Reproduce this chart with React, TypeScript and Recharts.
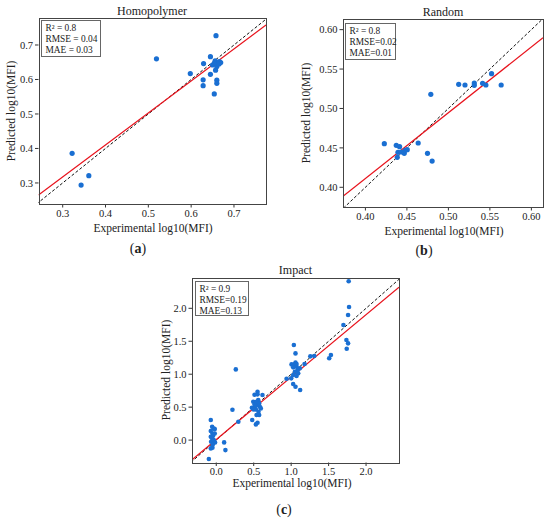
import React from "react";
import { ScatterChart, Scatter, XAxis, YAxis, ReferenceLine } from "recharts";

const FONT = "'Liberation Serif', 'Times New Roman', serif";
const DOT = "#1a6fd2";

// Panel (a) Homopolymer
const homoX = [0.322, 0.343, 0.361, 0.519, 0.598, 0.628, 0.628, 0.629, 0.645, 0.645, 0.658, 0.654, 0.66, 0.66, 0.65, 0.656, 0.661, 0.666, 0.669, 0.657, 0.66, 0.665, 0.654];
const homoY = [0.386, 0.294, 0.321, 0.66, 0.617, 0.582, 0.599, 0.646, 0.666, 0.615, 0.727, 0.558, 0.598, 0.589, 0.642, 0.654, 0.647, 0.652, 0.649, 0.627, 0.638, 0.645, 0.647];
const homoTicks = [0.3, 0.4, 0.5, 0.6, 0.7];
const homoXDomain = [0.2435, 0.7748];
const homoYDomain = [0.239, 0.7797];
const homoFitX = [0.2435, 0.7748];
const homoFitY = [0.265, 0.758];
const homoStats = ["R² = 0.8", "RMSE = 0.04", "MAE = 0.03"];

// Panel (b) Random
const randX = [0.4228, 0.4372, 0.4412, 0.4392, 0.4384, 0.4432, 0.4468, 0.448, 0.4504, 0.4636, 0.4748, 0.4804, 0.4788, 0.5124, 0.52, 0.5312, 0.5312, 0.5412, 0.5452, 0.552, 0.5636];
const randY = [0.4553, 0.4532, 0.4515, 0.4443, 0.438, 0.4448, 0.4431, 0.4469, 0.4477, 0.4562, 0.4431, 0.4333, 0.5179, 0.5306, 0.5298, 0.5323, 0.5294, 0.5319, 0.5298, 0.5442, 0.5298];
const randTicks = [0.4, 0.45, 0.5, 0.55, 0.6];
const randXDomain = [0.373, 0.614];
const randYDomain = [0.375, 0.6135];
const randFitX = [0.373, 0.614];
const randFitY = [0.3885, 0.5898];
const randStats = ["R² = 0.8", "RMSE=0.02", "MAE=0.01"];

// Panel (c) Impact
const impX = [
  -0.073, -0.055, -0.033, -0.02, -0.073, -0.051, -0.042, -0.073, -0.055, -0.069, -0.033, -0.016, -0.073, -0.051, -0.099, 0.105, 0.122, -0.046, -0.02,
  0.261, 0.216, 0.295, 0.48, 0.551, 0.551, 0.511, 0.617, 0.494, 0.525, 0.516, 0.56, 0.582, 0.547, 0.529, 0.498, 0.564, 0.538, 0.573, 0.551, 0.529, 0.476, 0.595, 0.511, 0.538, 0.573,
  1.036, 1.058, 0.939, 1.001, 1.005, 1.041, 1.058, 1.027, 1.072, 1.085, 1.05, 1.027, 1.072, 1.094, 1.027, 1.058, 1.12, 1.179, 1.072, 1.116,
  1.256, 1.309, 1.508, 1.531,
  1.768, 1.773, 1.76, 1.698, 1.738, 1.76, 1.742,
];
const impY = [
  0.304, 0.203, 0.177, 0.167, 0.137, 0.101, 0.066, 0.051, 0.025, -0.025, 0.0, -0.035, -0.126, -0.116, -0.288, -0.035, -0.152, -0.066, 0.101,
  1.073, 0.461, 0.279, 0.304, 0.734, 0.694, 0.689, 0.684, 0.582, 0.557, 0.506, 0.608, 0.506, 0.532, 0.466, 0.466, 0.43, 0.38, 0.38, 0.263, 0.238, 0.491, 0.481, 0.542, 0.582, 0.557,
  1.443, 1.316, 0.932, 0.937, 1.149, 1.149, 1.175, 1.104, 1.114, 1.063, 1.038, 0.987, 0.972, 1.013, 0.851, 0.81, 0.76, 1.154, 1.154, 1.089,
  1.271, 1.276, 1.241, 1.291,
  2.41, 2.02, 1.899, 1.747, 1.519, 1.468, 1.387,
];
const impTicks = [0, 0.5, 1, 1.5, 2];
const impXDomain = [-0.324, 2.44];
const impYDomain = [-0.34, 2.46];
const impFitX = [-0.324, 2.44];
const impFitY = [-0.297, 2.319];
const impStats = ["R² = 0.9", "RMSE=0.19", "MAE=0.13"];

type PanelProps = {
  left: number;
  top: number;
  width: number;
  height: number;
  margin: { top: number; right: number; bottom: number; left: number };
  xs: number[];
  ys: number[];
  ticks: number[];
  xDomain: number[];
  yDomain: number[];
  fitX: number[];
  fitY: number[];
  digits: number;
  r: number;
};

const Panel = (p: PanelProps) => {
  const data = p.xs.map((x, i) => ({ x, y: p.ys[i] }));
  const lo = Math.min(p.xDomain[0], p.yDomain[0]) - 1;
  const hi = Math.max(p.xDomain[1], p.yDomain[1]) + 1;
  const tickStyle = { fontSize: 10.5, fill: "#222", fontFamily: FONT };
  const fmt = (v: number) => v.toFixed(p.digits);
  return (
    <div style={{ position: "absolute", left: p.left, top: p.top }}>
      <ScatterChart width={p.width} height={p.height} margin={p.margin}>
        <XAxis
          type="number"
          dataKey="x"
          domain={p.xDomain}
          ticks={p.ticks}
          tickFormatter={fmt}
          allowDataOverflow
          axisLine={false}
          tickLine={{ stroke: "#333" }}
          tickSize={3.5}
          height={20}
          tick={tickStyle}
          interval={0}
        />
        <YAxis
          type="number"
          dataKey="y"
          domain={p.yDomain}
          ticks={p.ticks}
          tickFormatter={fmt}
          allowDataOverflow
          axisLine={false}
          tickLine={{ stroke: "#333" }}
          tickSize={3.5}
          width={30}
          tick={tickStyle}
          interval={0}
        />
        <ReferenceLine
          segment={[{ x: lo, y: lo }, { x: hi, y: hi }]}
          stroke="#111"
          strokeDasharray="3 2"
          strokeWidth={1}
          ifOverflow="hidden"
        />
        <Scatter
          data={data}
          isAnimationActive={false}
          shape={(s: any) => <circle cx={s.cx} cy={s.cy} r={p.r} fill={DOT} />}
        />
        <ReferenceLine
          segment={[{ x: p.fitX[0], y: p.fitY[0] }, { x: p.fitX[1], y: p.fitY[1] }]}
          stroke="#e8121c"
          strokeWidth={1.2}
          ifOverflow="hidden"
        />
      </ScatterChart>
    </div>
  );
};

const Frame = ({ l, t, r, b }: { l: number; t: number; r: number; b: number }) => (
  <div
    style={{
      position: "absolute",
      left: l,
      top: t,
      width: r - l - 1,
      height: b - t - 1,
      border: "1px solid #444",
      pointerEvents: "none",
    }}
  />
);

const Txt = ({ x, y, text, size, rotate, weight }: { x: number; y: number; text: React.ReactNode; size: number; rotate?: boolean; weight?: number }) => (
  <div
    style={{
      position: "absolute",
      left: x,
      top: y,
      transform: `translate(-50%, -50%)${rotate ? " rotate(-90deg)" : ""}`,
      whiteSpace: "nowrap",
      fontFamily: FONT,
      fontSize: size,
      fontWeight: weight ?? 400,
      color: "#222",
      lineHeight: 1,
    }}
  >
    {text}
  </div>
);

const Stats = ({ l, t, w, h, lines }: { l: number; t: number; w: number; h: number; lines: string[] }) => (
  <div
    style={{
      position: "absolute",
      left: l,
      top: t,
      width: w,
      height: h,
      border: "1px solid #666",
      background: "#fff",
      boxSizing: "border-box",
      padding: "1.5px 0 0 3.5px",
      fontFamily: FONT,
      fontSize: 9.4,
      lineHeight: "11px",
      color: "#222",
      whiteSpace: "nowrap",
    }}
  >
    {lines.map((s) => (
      <div key={s}>{s}</div>
    ))}
  </div>
);

const PanelLabel = ({ x, y, letter }: { x: number; y: number; letter: string }) => (
  <Txt x={x} y={y} size={14} text={<span>(<b>{letter}</b>)</span>} />
);

export default function App() {
  return (
    <div style={{ position: "absolute", left: 0, top: 0, width: 550, height: 521, background: "#fff", overflow: "hidden" }}>
      <Panel
        left={0}
        top={0}
        width={275}
        height={240}
        margin={{ top: 17.5, right: 9, bottom: 16, left: 8.5 }}
        xs={homoX}
        ys={homoY}
        ticks={homoTicks}
        xDomain={homoXDomain}
        yDomain={homoYDomain}
        fitX={homoFitX}
        fitY={homoFitY}
        digits={1}
        r={2.6}
      />
      <Frame l={38.5} t={17.5} r={266} b={204} />
      <Txt x={152} y={11} size={12} text="Homopolymer" />
      <Txt x={153} y={229} size={11.5} text="Experimental log10(MFI)" />
      <Txt x={12} y={111} size={11.5} rotate text="Predicted log10(MFI)" />
      <Stats l={41} t={20} w={60} h={37} lines={homoStats} />
      <PanelLabel x={138} y={249} letter="a" />

      <Panel
        left={300}
        top={0}
        width={250}
        height={240}
        margin={{ top: 19, right: 7, bottom: 13, left: 13 }}
        xs={randX}
        ys={randY}
        ticks={randTicks}
        xDomain={randXDomain}
        yDomain={randYDomain}
        fitX={randFitX}
        fitY={randFitY}
        digits={2}
        r={2.6}
      />
      <Frame l={343} t={19} r={543} b={207} />
      <Txt x={443} y={12} size={12} text="Random" />
      <Txt x={444} y={232} size={11.5} text="Experimental log10(MFI)" />
      <Txt x={307} y={113} size={11.5} rotate text="Predicted log10(MFI)" />
      <Stats l={345} t={23} w={51} h={37} lines={randStats} />
      <PanelLabel x={424} y={251} letter="b" />

      <Panel
        left={150}
        top={260}
        width={260}
        height={230}
        margin={{ top: 18, right: 11, bottom: 7.5, left: 12 }}
        xs={impX}
        ys={impY}
        ticks={impTicks}
        xDomain={impXDomain}
        yDomain={impYDomain}
        fitX={impFitX}
        fitY={impFitY}
        digits={1}
        r={2.3}
      />
      <Frame l={192} t={278} r={399} b={463} />
      <Txt x={295.5} y={270} size={12} text="Impact" />
      <Txt x={292} y={484} size={11.5} text="Experimental log10(MFI)" />
      <Txt x={167} y={370} size={11.5} rotate text="Predicted log10(MFI)" />
      <Stats l={195} t={281} w={54} h={35} lines={impStats} />
      <PanelLabel x={284} y={510} letter="c" />
    </div>
  );
}
